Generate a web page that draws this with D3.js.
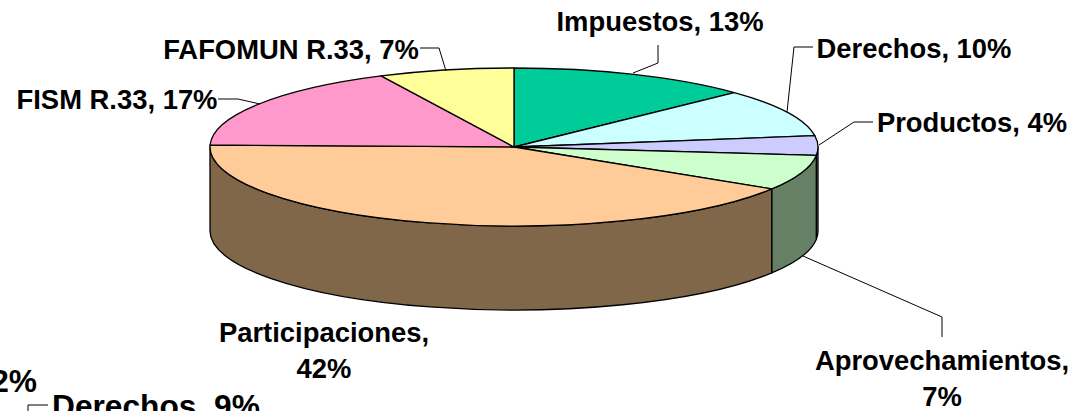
<!DOCTYPE html>
<html><head><meta charset="utf-8">
<style>html,body{margin:0;padding:0;background:#fff;overflow:hidden}svg{display:block}
text{font-family:"Liberation Sans",Arial,sans-serif;font-weight:bold;font-size:27.4px;fill:#000}</style>
<script src="https://cdnjs.cloudflare.com/ajax/libs/d3/7.8.5/d3.min.js"></script>
</head><body><svg id="c" width="1084" height="411"></svg>
<script>
const categories=["Impuestos","Derechos","Productos","Aprovechamientos","Participaciones","FISM R.33","FAFOMUN R.33"];
const values=[12.9,9.8,4,7.2,41.5,17.4,7.2];
const fills=["#00CC99","#CCFFFF","#CCCCFF","#CCFFCC","#FFCC99","#FF99CC","#FFFF99"];
const sides=["#006650","#668080","#666680","#668066","#806749","#804C66","#80804C"];
const labelLines=[["Impuestos, 13%"],["Derechos, 10%"],["Productos, 4%"],["Aprovechamientos,","7%"],["Participaciones,","42%"],["FISM R.33, 17%"],["FAFOMUN R.33, 7%"]];
const labelX=[660,914,972,942,324,117,291];
const labelY=[31,58,132,370,342,109,59];
const leaders=[
 [[633,73],[658,63],[658,45]],
 [[787,112],[794,47],[813,47]],
 [[819,145],[854,122],[873,122]],
 [[803,256],[942,317],[942,337]],
 [],
 [[260,104],[238,99],[218,99]],
 [[446,71],[439,48],[420,48]]
];
const clippedText=[{t:"2%",x:37,y:392,a:"end"},{t:"Derechos, 9%",x:52,y:417,a:"start"}];
const clippedLeader=[[28,411],[28,405],[48,405]];

const cx=514,cy=147,rx=304,ry=79,depth=84;
const svg=d3.select("#c");
const pie=d3.pie().sort(null).value(d=>d)(values);
const P=(a,dy=0)=>[cx+rx*Math.sin(a),cy-ry*Math.cos(a)+dy];
const arc=d3.arc().innerRadius(0).outerRadius(rx);

const lo=Math.PI/2,hi=Math.PI*1.5;
pie.forEach((d,i)=>{
  const a=Math.max(d.startAngle,lo),b=Math.min(d.endAngle,hi);
  if(b<=a)return;
  const p0=P(a),p1=P(b),q1=P(b,depth),q0=P(a,depth);
  svg.append("path").attr("d",`M${p0}A${rx} ${ry} 0 0 1 ${p1}L${q1}A${rx} ${ry} 0 0 0 ${q0}Z`)
    .attr("fill",sides[i]).attr("stroke","#000").attr("stroke-width",1.3).attr("stroke-linejoin","round");
});
svg.append("g").attr("transform",`translate(${cx},${cy}) scale(1,${ry/rx})`)
  .selectAll("path").data(pie).join("path")
  .attr("d",arc).attr("fill",(d,i)=>fills[i])
  .attr("stroke","#000").attr("stroke-width",1.3).attr("vector-effect","non-scaling-stroke").attr("stroke-linejoin","round");

const line=d3.line();
svg.append("g").selectAll("path").data(leaders.concat([clippedLeader]).filter(l=>l.length)).join("path")
  .attr("d",line).attr("fill","none").attr("stroke","#000").attr("stroke-width",1);

labelLines.forEach((ls,i)=>{
  ls.forEach((s,j)=>svg.append("text").attr("x",labelX[i]).attr("y",labelY[i]+j*35.5).attr("text-anchor","middle").text(s));
});
clippedText.forEach(c=>svg.append("text").attr("x",c.x).attr("y",c.y).attr("text-anchor",c.a).style("font-size","31.7px").text(c.t));
</script></body></html>
